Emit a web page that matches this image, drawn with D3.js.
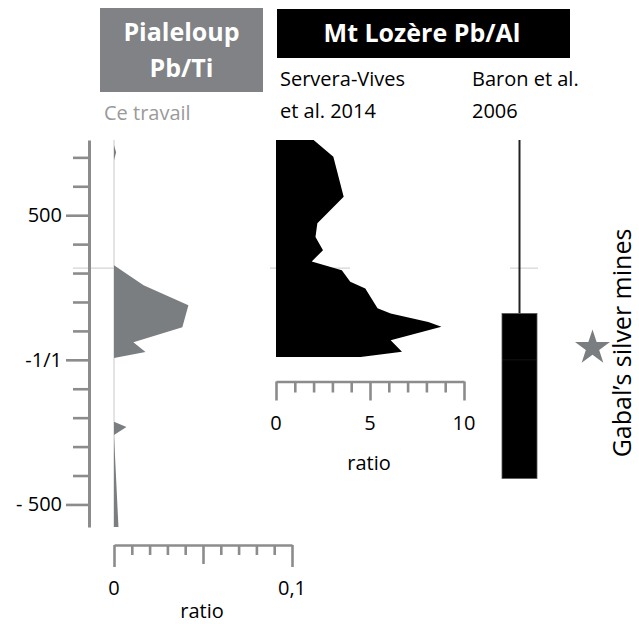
<!DOCTYPE html>
<html>
<head>
<meta charset="utf-8">
<script src="https://cdn.jsdelivr.net/npm/d3@7"></script>
<style>
  html, body { margin: 0; padding: 0; background: #fff; }
  svg { display: block; font-family: "Open Sans", "DejaVu Sans", sans-serif; }
</style>
</head>
<body>
<svg id="chart" width="639" height="624"></svg>
<script>
// ---- data ----------------------------------------------------------------
// depth axis (years), tick values and their labels
const depthTicks = [700, 600, 500, 400, 300, 200, 100, 0, -100, -200, -300, -400, -500];
const depthMajor = [500, 0, -500];
const depthLabels = ["500", "-1/1", "- 500"];
const depthExtent = [760, -578];

// Pialeloup Pb/Ti profile: depth value and ratio
const pialDepth = [760, 742, 718, 690, 327, 258, 189, 113, 61, 27, 6, -214, -232, -260, -578];
const pialRatio = [0, 0, 0.0012, 0, 0, 0.0166, 0.0418, 0.0384, 0.0109, 0.0177, 0, 0, 0.007, 0, 0.0025];

// Mont Lozère Pb/Al profile (Servera-Vives et al. 2014)
const lozDepth = [760, 702, 564, 472, 425, 379, 340, 310, 270, 247, 178, 160, 131, 114, 68, 28, 10];
const lozRatio = [2.0, 3.05, 3.6, 2.2, 2.1, 2.5, 1.9, 3.5, 3.95, 4.75, 5.4, 6.1, 8.1, 8.8, 6.1, 6.7, 4.5];

// Baron et al. 2006: thin line interval and thick bar interval
const baronLine = [760, 160];
const baronBar = [160, -410];

// ratio axes
const pialTicks = d3.range(0, 11).map(i => i / 100);
const pialTickLabels = [{ v: 0, t: "0" }, { v: 0.1, t: "0,1" }];
const lozTicks = d3.range(0, 11);
const lozTickLabels = [{ v: 0, t: "0" }, { v: 5, t: "5" }, { v: 10, t: "10" }];

// horizontal period boundaries
const boundaries = [317, 0];
// mining period marker
const minesDepth = 45;

// ---- layout ---------------------------------------------------------------
const svg = d3.select("#chart");
const axisGrey = "#8c8c8c";
const fillGrey = "#7b7e80";

const y = d3.scaleLinear().domain(depthExtent).range([140, 527]);
const xPial = d3.scaleLinear().domain([0, 0.1]).range([114, 292]);
const xLoz = d3.scaleLinear().domain([0, 10]).range([276, 464]);

// ---- headers --------------------------------------------------------------
svg.append("rect").attr("x", 100).attr("y", 8).attr("width", 163).attr("height", 84).attr("fill", "#808285");
svg.append("text").attr("x", 181.5).attr("y", 41).attr("text-anchor", "middle")
  .attr("fill", "#fff").attr("font-weight", 700).attr("font-size", 25).text("Pialeloup");
svg.append("text").attr("x", 181.5).attr("y", 77).attr("text-anchor", "middle")
  .attr("fill", "#fff").attr("font-weight", 700).attr("font-size", 25).text("Pb/Ti");

svg.append("rect").attr("x", 277).attr("y", 9).attr("width", 293).attr("height", 49).attr("fill", "#000");
svg.append("text").attr("x", 422).attr("y", 42).attr("text-anchor", "middle")
  .attr("fill", "#fff").attr("font-weight", 700).attr("font-size", 25).text("Mt Lozère Pb/Al");

svg.append("text").attr("x", 104).attr("y", 120).attr("fill", "#9a9a9a").attr("font-size", 20).text("Ce travail");
svg.append("text").attr("x", 280).attr("y", 86).attr("font-size", 20).text("Servera-Vives");
svg.append("text").attr("x", 280).attr("y", 118).attr("font-size", 20).text("et al. 2014");
svg.append("text").attr("x", 472).attr("y", 86).attr("font-size", 20).text("Baron et al.");
svg.append("text").attr("x", 472).attr("y", 118).attr("font-size", 20).text("2006");

// ---- boundaries (drawn beneath the profiles) ------------------------------
const bnd = svg.append("g").attr("stroke", "#d4d4d4").attr("stroke-width", 1.2);
bnd.append("line").attr("x1", 73).attr("x2", 114).attr("y1", y(boundaries[0])).attr("y2", y(boundaries[0]));
bnd.append("line").attr("x1", 270).attr("x2", 350).attr("y1", y(boundaries[0])).attr("y2", y(boundaries[0]));
bnd.append("line").attr("x1", 510).attr("x2", 538).attr("y1", y(boundaries[0])).attr("y2", y(boundaries[0]));

// ---- depth axis -------------------------------------------------------------
const yAxis = d3.axisLeft(y).tickValues(depthTicks).tickSizeInner(16).tickSizeOuter(0)
  .tickPadding(4).tickFormat(d => { const i = depthMajor.indexOf(d); return i >= 0 ? depthLabels[i] : ""; });
const gy = svg.append("g").attr("transform", "translate(89,0)").call(yAxis);
gy.select(".domain").attr("stroke", axisGrey).attr("stroke-width", 3);
gy.selectAll(".tick line").attr("stroke", axisGrey).attr("stroke-width", 2.6)
  .attr("x2", d => depthMajor.includes(d) ? -23 : -16);
gy.selectAll(".tick text").attr("x", -27).attr("font-size", 20).attr("fill", "#000")
  .attr("font-family", "'Open Sans', sans-serif");

// ---- Pialeloup profile ----------------------------------------------------
const pialData = pialDepth.map((d, i) => ({ d, r: pialRatio[i] }));
svg.append("line").attr("x1", xPial(0)).attr("x2", xPial(0))
  .attr("y1", y(depthExtent[0])).attr("y2", y(depthExtent[1]))
  .attr("stroke", "#c8c8c8").attr("stroke-width", 1);
svg.append("path").datum(pialData)
  .attr("fill", fillGrey)
  .attr("d", d3.area().y(p => y(p.d)).x0(xPial(0)).x1(p => xPial(p.r)));

const gxP = svg.append("g").attr("transform", "translate(0,545)")
  .call(d3.axisBottom(xPial).tickValues(pialTicks).tickSizeInner(10).tickSizeOuter(0).tickFormat(""));
gxP.select(".domain").attr("stroke", axisGrey).attr("stroke-width", 2.6);
gxP.selectAll(".tick line").attr("stroke", axisGrey).attr("stroke-width", 2.6)
  .attr("y2", (d, i) => (i === 0 || i === 10) ? 22 : (i === 5 ? 19 : 10));
svg.append("g").selectAll("text").data(pialTickLabels).join("text")
  .attr("x", d => xPial(d.v)).attr("y", 595).attr("text-anchor", "middle").attr("font-size", 20).text(d => d.t);
svg.append("text").attr("x", 202).attr("y", 618).attr("text-anchor", "middle").attr("font-size", 20).text("ratio");

// ---- Mont Lozère profile ---------------------------------------------------
const lozData = lozDepth.map((d, i) => ({ d, r: lozRatio[i] }));
svg.append("path").datum(lozData)
  .attr("fill", "#000")
  .attr("d", d3.area().y(p => y(p.d)).x0(xLoz(0)).x1(p => xLoz(p.r)));

const gxL = svg.append("g").attr("transform", "translate(0,381.5)")
  .call(d3.axisBottom(xLoz).tickValues(lozTicks).tickSizeInner(11).tickSizeOuter(0).tickFormat(""));
gxL.select(".domain").attr("stroke", axisGrey).attr("stroke-width", 2.6);
gxL.selectAll(".tick line").attr("stroke", axisGrey).attr("stroke-width", 2.6)
  .attr("y2", d => (d % 5 === 0) ? 19 : 11);
svg.append("g").selectAll("text").data(lozTickLabels).join("text")
  .attr("x", d => xLoz(d.v)).attr("y", 430).attr("text-anchor", "middle").attr("font-size", 20).text(d => d.t);
svg.append("text").attr("x", 369).attr("y", 470).attr("text-anchor", "middle").attr("font-size", 20).text("ratio");

// ---- Baron et al. 2006 -----------------------------------------------------
svg.append("line").attr("x1", 519.5).attr("x2", 519.5)
  .attr("y1", y(baronLine[0])).attr("y2", y(baronLine[1]))
  .attr("stroke", "#222").attr("stroke-width", 2);
svg.append("rect").attr("x", 502).attr("width", 35)
  .attr("y", y(baronBar[0])).attr("height", y(baronBar[1]) - y(baronBar[0]))
  .attr("fill", "#000").attr("stroke", "#555").attr("stroke-width", 0.8);
svg.append("line").attr("x1", 502).attr("x2", 538).attr("y1", y(boundaries[1])).attr("y2", y(boundaries[1]))
  .attr("stroke", "#888").attr("stroke-opacity", 0.15).attr("stroke-width", 1);

// ---- mines marker -----------------------------------------------------------
svg.append("path").attr("d", d3.symbol(d3.symbolStar).size(380)())
  .attr("transform", `translate(592.5,${y(minesDepth) + 1})`)
  .attr("fill", "#7b7e80");
svg.append("text").attr("transform", `translate(631,343) rotate(-90)`)
  .attr("text-anchor", "middle").attr("font-size", 25).text("Gabal’s silver mines");
</script>
</body>
</html>
